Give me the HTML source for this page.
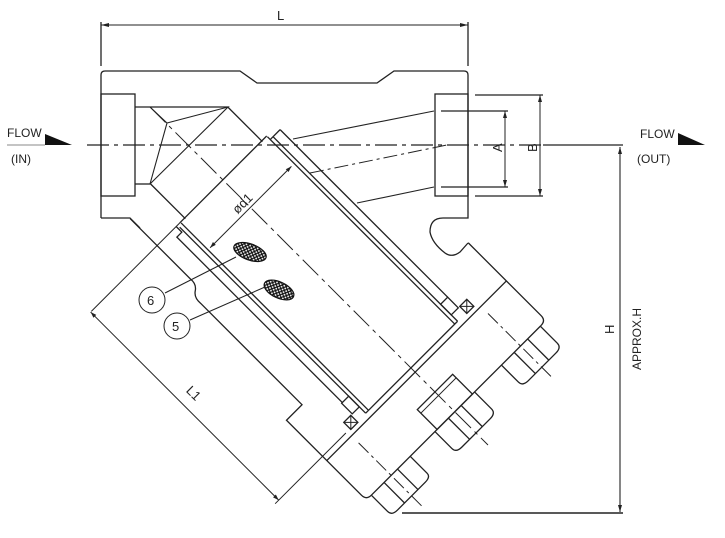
<!DOCTYPE html>
<html><head><meta charset="utf-8"><style>
html,body{margin:0;padding:0;background:#fff;width:725px;height:538px;overflow:hidden;}
svg{display:block;}
text{font-family:"Liberation Sans",sans-serif;fill:#222;}
</style></head><body>
<svg width="725" height="538" viewBox="0 0 725 538" xmlns="http://www.w3.org/2000/svg">
<defs>
<pattern id="hx" width="4" height="4" patternUnits="userSpaceOnUse"><rect width="4" height="4" fill="#fff"/><path d="M0 0L4 4M4 0L0 4" stroke="#111" stroke-width="1.2"/></pattern>
</defs>
<g fill="none" stroke="#222" stroke-width="1.3">
<line x1="101" y1="22" x2="101" y2="66"/>
<line x1="468" y1="22" x2="468" y2="66"/>
<line x1="101" y1="25" x2="468" y2="25" stroke-width="1"/>
<path d="M101 25l8 -2v4z M468 25l-8 -2v4z" fill="#222" stroke="none"/>
<path d="M101 218 V75 Q101 71 105 71 H240 L257 83 H377 L394 71 H464 Q468 71 468 75 V218 H443 Q430 218 430 232 Q432 243 445 253 Q452 258 460 252 L468 243"/>
<path d="M101 218 H130 L140 228"/>
<rect x="101" y="94" width="34" height="102"/>
<rect x="435" y="94" width="33" height="102"/>
<line x1="135" y1="107" x2="228" y2="107"/>
<line x1="135" y1="184" x2="150" y2="184"/>
<path d="M150 107 L167 123 L150 184 M167 123 L228 107 L150 184" stroke-width="1.1"/>
<line x1="293" y1="139" x2="434" y2="111" stroke-width="1.1"/>
<line x1="357" y1="203" x2="434" y2="187" stroke-width="1.1"/>
<line x1="310" y1="173" x2="447" y2="145" stroke-width="1" stroke-dasharray="14 4 3 4"/>
<line x1="441" y1="111" x2="508" y2="111"/>
<line x1="441" y1="187" x2="508" y2="187"/>
<line x1="475" y1="95" x2="543" y2="95"/>
<line x1="475" y1="196" x2="543" y2="196"/>
<line x1="505" y1="111" x2="505" y2="187" stroke-width="1"/>
<line x1="540" y1="95" x2="540" y2="196" stroke-width="1"/>
<path d="M505 111l-2 7h4z M505 187l-2 -7h4z M540 95l-2 7h4z M540 196l-2 -7h4z" fill="#222" stroke="none"/>
<line x1="87" y1="145" x2="543" y2="145" stroke-width="1.2" stroke-dasharray="22 5 4 5"/>
<line x1="543" y1="145" x2="623" y2="145"/>
<line x1="620" y1="147" x2="620" y2="512" stroke-width="1.1"/>
<path d="M620 147l-2 7h4z M620 512l-2 -7h4z" fill="#222" stroke="none"/>
<line x1="402" y1="513" x2="623" y2="513" stroke-width="1.6"/>
</g>
<g transform="translate(150,107) rotate(45)" fill="none" stroke="#222" stroke-width="1.3">
<line x1="55" y1="-55" x2="104" y2="-55"/>
<line x1="54" y1="54" x2="104" y2="54"/>
<line x1="103" y1="-62" x2="103" y2="61"/>
<line x1="103" y1="61" x2="103" y2="186" stroke-width="1"/>
<line x1="104" y1="-62" x2="369" y2="-62"/>
<line x1="108" y1="-66" x2="369" y2="-66"/>
<line x1="108" y1="-62" x2="108" y2="-76"/>
<line x1="108" y1="-76" x2="345" y2="-76"/>
<line x1="104" y1="60" x2="369" y2="60"/>
<line x1="106" y1="64" x2="369" y2="64"/>
<path d="M103 66 H111 V73 H345"/>
<rect x="345" y="-76" width="15" height="10"/>
<rect x="345" y="64" width="15" height="10"/>
<rect x="360" y="-88" width="10" height="10"/><path d="M360 -88l10 10M370 -88l-10 10" stroke-width="1"/>
<rect x="360" y="76" width="10" height="10"/><path d="M360 76l10 10M370 76l-10 10" stroke-width="1"/>
<line x1="142" y1="-58" x2="142" y2="57" stroke-width="1"/>
<path d="M142 -58l-2 6h4z M142 57l-2 -6h4z" fill="#222" stroke="none"/>
<text x="0" y="0" transform="translate(138,14) rotate(-90)" font-size="13" stroke="none">ød1</text>
<path d="M65 93 H150 Q158 92 162 98 Q166 104 175 103 H318 V125 H424 Q431 125 431 118"/>
<path d="M321 -129 H424 Q431 -129 431 -122"/>
<line x1="369" y1="-66" x2="369" y2="64"/>
<line x1="375" y1="-129" x2="375" y2="125"/>
<line x1="431" y1="-122" x2="431" y2="118"/>
<line x1="369" y1="92" x2="369" y2="192" stroke-width="1"/>
<line x1="103" y1="187" x2="369" y2="187" stroke-width="1"/>
<path d="M103 187l6 -2v4z M369 187l-6 -2v4z" fill="#222" stroke="none"/>
<text x="0" y="0" transform="translate(226,176)" font-size="13" stroke="none">L1</text>
<rect x="403" y="-25" width="28" height="50"/>
<line x1="408" y1="-25" x2="408" y2="25" stroke-width="1"/>
<path d="M431 -28 H455 Q461 -28 461 -20 V20 Q461 28 455 28 H431"/>
<line x1="431" y1="-9" x2="461" y2="-9"/><line x1="431" y1="9" x2="461" y2="9"/>
<path d="M431 -121 H455 Q461 -121 461 -113 V-74 Q461 -66 455 -66 H431"/>
<line x1="431" y1="-103" x2="461" y2="-103"/><line x1="431" y1="-84" x2="461" y2="-84"/>
<path d="M431 63 H455 Q460 63 460 71 V110 Q460 118 454 118 H431"/>
<line x1="431" y1="81" x2="460" y2="81"/><line x1="431" y1="100" x2="460" y2="100"/>
<line x1="0" y1="0" x2="478" y2="0" stroke-width="1" stroke-dasharray="22 5 4 5"/>
<line x1="385" y1="-93" x2="475" y2="-93" stroke-width="1" stroke-dasharray="14 4 3 4"/>
<line x1="385" y1="90" x2="475" y2="90" stroke-width="1" stroke-dasharray="14 4 3 4"/>
</g>
<ellipse cx="250" cy="252" rx="17" ry="8" transform="rotate(20 250 252)" fill="url(#hx)" stroke="#111" stroke-width="1.2"/>
<ellipse cx="279" cy="290" rx="16" ry="8" transform="rotate(25 279 290)" fill="url(#hx)" stroke="#111" stroke-width="1.2"/>
<g fill="none" stroke="#222" stroke-width="1">
<line x1="165" y1="293" x2="236" y2="257"/>
<line x1="190" y1="320" x2="265" y2="287"/>
<circle cx="152" cy="300" r="13" fill="#fff"/>
<circle cx="177" cy="326" r="13" fill="#fff"/>
</g>
<text x="147" y="305" font-size="13">6</text>
<text x="172" y="331" font-size="13">5</text>
<text x="277" y="20" font-size="13">L</text>
<text x="0" y="0" transform="translate(502,152) rotate(-90)" font-size="13">A</text>
<text x="0" y="0" transform="translate(537,152) rotate(-90)" font-size="13">B</text>
<text x="0" y="0" transform="translate(614,334) rotate(-90)" font-size="13">H</text>
<text x="0" y="0" transform="translate(641,370) rotate(-90)" font-size="12">APPROX.H</text>
<text x="7" y="137" font-size="12">FLOW</text>
<text x="11" y="163" font-size="12">(IN)</text>
<line x1="7" y1="145" x2="45" y2="145" stroke="#888" stroke-width="1"/>
<path d="M45 134 L72 145 L45 145 Z" fill="#111"/>
<text x="640" y="138" font-size="12">FLOW</text>
<text x="637" y="163" font-size="12">(OUT)</text>
<path d="M678 133 L705 145 L678 145 Z" fill="#111"/>
</svg>
</body></html>
